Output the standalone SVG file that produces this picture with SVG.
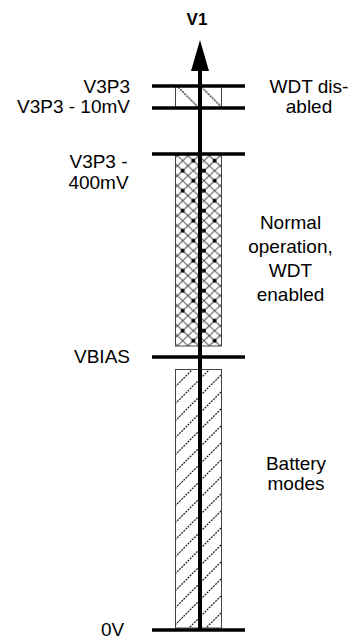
<svg xmlns="http://www.w3.org/2000/svg" width="353" height="638" viewBox="0 0 353 638">
<style>
text{font-family:"Liberation Sans",Arial,sans-serif;font-size:19px;fill:#000}
.b{font-weight:bold;font-size:17px}
.lvl{stroke:#000;stroke-width:3.5}
.box{stroke:#444;stroke-width:1}
.ax{stroke:#000;stroke-width:4}
</style>
<defs>
<pattern id="back" patternUnits="userSpaceOnUse" x="178" y="87" width="23.5" height="23.5">
<path d="M0,0L23.5,23.5M-23.5,0L0,23.5M23.5,0L47,23.5" stroke="#222" stroke-width="1.3" stroke-dasharray="2,1"/>
</pattern>
<pattern id="cross" patternUnits="userSpaceOnUse" x="182.7" y="170.7" width="21.3" height="20">
<path d="M0,0L21.3,20M21.3,0L0,20M10.65,0L21.3,10L10.65,20L0,10Z" stroke="#444" stroke-width="1" fill="none"/>
<circle cx="0" cy="0" r="2"/><circle cx="21.3" cy="0" r="2"/><circle cx="0" cy="20" r="2"/><circle cx="21.3" cy="20" r="2"/><circle cx="10.65" cy="10" r="2"/>
</pattern>
<pattern id="fwd" patternUnits="userSpaceOnUse" x="175" y="370" width="17" height="17">
<path d="M0,17L17,0M-17,17L0,0M17,17L34,0" stroke="#222" stroke-width="1.3" stroke-dasharray="2,1"/>
</pattern>
</defs>
<g id="band-wdt-disabled">
<rect class="box" x="175.5" y="86" width="46" height="22" fill="url(#back)"/>
</g>
<g id="band-normal">
<rect class="box" x="175.5" y="154" width="46" height="192" fill="url(#cross)"/>
</g>
<g id="band-battery">
<rect class="box" x="175.5" y="369.5" width="46" height="258.5" fill="url(#fwd)"/>
</g>
<g id="levels">
<line class="lvl" x1="152" y1="86" x2="245" y2="86"/>
<line class="lvl" x1="152" y1="108" x2="245" y2="108"/>
<line class="lvl" x1="152" y1="154" x2="245" y2="154"/>
<line class="lvl" x1="152" y1="357" x2="245" y2="357"/>
<line class="lvl" x1="152" y1="630" x2="245" y2="630"/>
</g>
<g id="axis">
<line class="ax" x1="200" y1="630" x2="200" y2="68"/>
<polygon points="200,40 191,71 209,71" fill="#000"/>
<text class="b" x="197" y="25" text-anchor="middle">V1</text>
</g>
<g id="labels-left">
<text x="130" y="92.5" text-anchor="end">V3P3</text>
<text x="130" y="112.5" text-anchor="end">V3P3 - 10mV</text>
<text x="98.5" y="167.5" text-anchor="middle">V3P3 -</text>
<text x="98.5" y="188.5" text-anchor="middle">400mV</text>
<text x="130" y="362.5" text-anchor="end">VBIAS</text>
<text x="112.5" y="635.5" text-anchor="middle">0V</text>
</g>
<g id="labels-right">
<text x="309" y="92.5" text-anchor="middle">WDT dis-</text>
<text x="309" y="112.5" text-anchor="middle">abled</text>
<text x="290.5" y="228.5" text-anchor="middle">Normal</text>
<text x="290.5" y="252.5" text-anchor="middle">operation,</text>
<text x="290.5" y="276.5" text-anchor="middle">WDT</text>
<text x="290.5" y="300.5" text-anchor="middle">enabled</text>
<text x="296" y="470" text-anchor="middle">Battery</text>
<text x="296" y="490" text-anchor="middle">modes</text>
</g>
</svg>
